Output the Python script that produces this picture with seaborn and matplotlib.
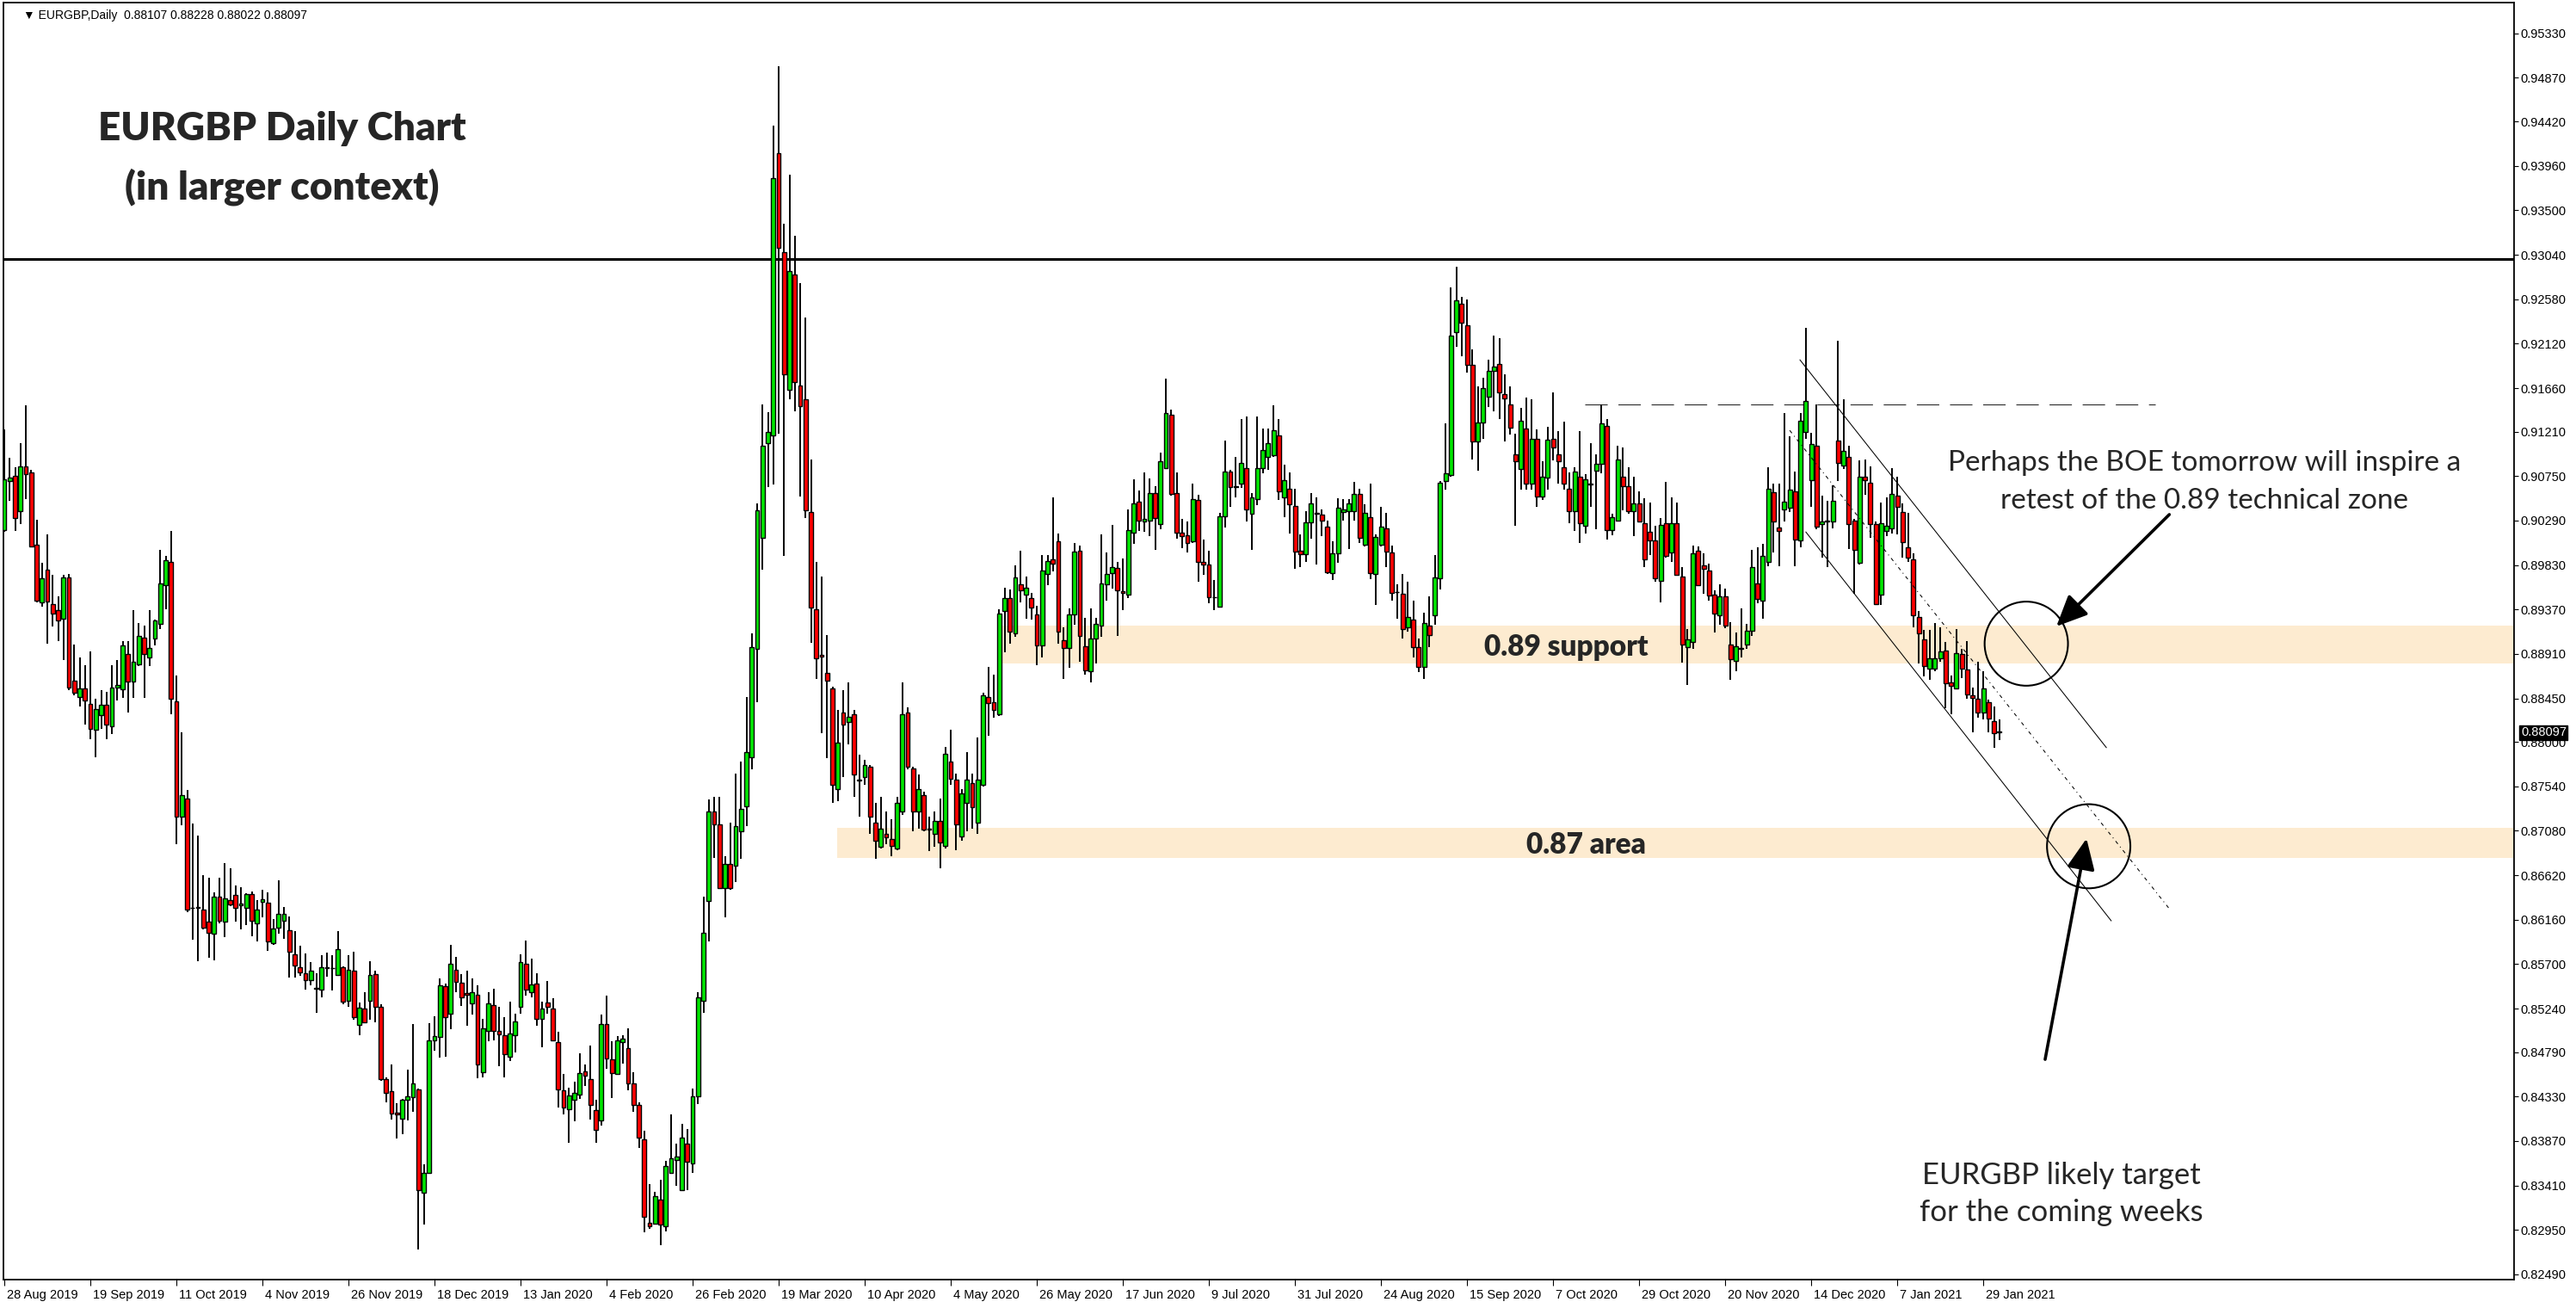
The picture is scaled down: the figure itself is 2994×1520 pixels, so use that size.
import matplotlib
matplotlib.use("Agg")
import matplotlib.pyplot as plt
import matplotlib.transforms as mtransforms
from matplotlib.patches import Rectangle, Ellipse, FancyArrowPatch
import numpy as np
import pandas as pd
import seaborn as sns

# daily EURGBP candles, 28 Aug 2019 -> 3 Feb 2021 (one entry per trading day)
opens = [
    0.90191, 0.90700, 0.90750, 0.90386, 0.90850, 0.90791, 0.90041, 0.89442, 0.89778, 0.89428,
    0.89364, 0.89274, 0.89705, 0.88633, 0.88465, 0.88556, 0.88397, 0.88124, 0.88274, 0.88388,
    0.88161, 0.88565, 0.88542, 0.88910, 0.88624, 0.88801, 0.89078, 0.88874, 0.89069, 0.89224,
    0.89623, 0.89859, 0.88415, 0.87230, 0.87411, 0.86285, 0.86285, 0.86262, 0.86144, 0.86012,
    0.86394, 0.86140, 0.86367, 0.86412, 0.86308, 0.86285, 0.86421, 0.86126, 0.86344, 0.86339,
    0.85922, 0.86081, 0.86149, 0.86049, 0.85804, 0.85672, 0.85604, 0.85536, 0.85454, 0.85436,
    0.85663, 0.85663, 0.85590, 0.85672, 0.85318, 0.85629, 0.85071, 0.85243, 0.85318, 0.85594,
    0.85258, 0.84507, 0.84383, 0.84160, 0.84101, 0.84294, 0.84323, 0.84406, 0.83335, 0.83537,
    0.84908, 0.84947, 0.85472, 0.85184, 0.85644, 0.85505, 0.85398, 0.85294, 0.85383, 0.84585,
    0.85006, 0.85273, 0.85006, 0.84964, 0.84739, 0.84962, 0.85255, 0.85704, 0.85407, 0.85496,
    0.85131, 0.85300, 0.85243, 0.84896, 0.84392, 0.84196, 0.84294, 0.84347, 0.84588, 0.84507,
    0.84187, 0.84083, 0.85077, 0.84715, 0.84564, 0.84893, 0.84828, 0.84463, 0.84240, 0.83884,
    0.83026, 0.83017, 0.83267, 0.82988, 0.83543, 0.83670, 0.83359, 0.83840, 0.83635, 0.84332,
    0.85324, 0.86351, 0.87283, 0.87144, 0.86490, 0.86735, 0.86719, 0.87079, 0.87332, 0.87839,
    0.88959, 0.90112, 0.91093, 0.91174, 0.94093, 0.93071, 0.91640, 0.92834, 0.91689, 0.91542,
    0.90381, 0.89376, 0.88902, 0.88714, 0.88550, 0.87512, 0.88305, 0.88207, 0.88289, 0.87610,
    0.87635, 0.87741, 0.87160, 0.86915, 0.87046, 0.86997, 0.86899, 0.87283, 0.88305, 0.87724,
    0.87283, 0.87447, 0.87103, 0.87046, 0.87185, 0.86923, 0.87798, 0.87610, 0.87021, 0.87373,
    0.87577, 0.87160, 0.87553, 0.88468, 0.88411, 0.88289, 0.89352, 0.89487, 0.89123, 0.89632,
    0.89527, 0.89487, 0.89316, 0.88996, 0.89734, 0.89890, 0.90079, 0.89054, 0.88967, 0.89323,
    0.89977, 0.88989, 0.88734, 0.89069, 0.89200, 0.89632, 0.89745, 0.89796, 0.89556, 0.89523,
    0.90163, 0.90486, 0.90279, 0.90290, 0.90570, 0.90253, 0.90835, 0.91387, 0.90570, 0.90166,
    0.90141, 0.90079, 0.90501, 0.89861, 0.89832, 0.89501, 0.89396, 0.90333, 0.90795, 0.90646,
    0.90668, 0.90835, 0.90359, 0.90515, 0.90835, 0.90948, 0.90969, 0.91169, 0.90526, 0.90617,
    0.90442, 0.89977, 0.89941, 0.90275, 0.90370, 0.90348, 0.90224, 0.89745, 0.89955, 0.90378,
    0.90387, 0.90387, 0.90568, 0.90040, 0.90322, 0.89734, 0.90040, 0.90209, 0.89958, 0.89553,
    0.89535, 0.89182, 0.89265, 0.88983, 0.88774, 0.89206, 0.89314, 0.89694, 0.90700, 0.90761,
    0.92239, 0.92533, 0.92309, 0.91901, 0.91107, 0.91307, 0.91573, 0.91840, 0.91911, 0.91598,
    0.91487, 0.90975, 0.90822, 0.91242, 0.90675, 0.91135, 0.90540, 0.90730, 0.91135, 0.90975,
    0.90838, 0.90617, 0.90387, 0.90739, 0.90240, 0.90672, 0.90807, 0.90877, 0.91267, 0.90194,
    0.90286, 0.90739, 0.90644, 0.90387, 0.90463, 0.90264, 0.90169, 0.90080, 0.89663, 0.90264,
    0.89957, 0.90266, 0.89706, 0.88982, 0.89031, 0.89973, 0.89822, 0.89776, 0.89525, 0.89314,
    0.89502, 0.89011, 0.88834, 0.88972, 0.89008, 0.89146, 0.89641, 0.89459, 0.89865, 0.90583,
    0.90220, 0.90402, 0.90425, 0.90596, 0.90085, 0.91209, 0.90705, 0.91067, 0.90250, 0.90286,
    0.90276, 0.91113, 0.90863, 0.90945, 0.90293, 0.89855, 0.90747, 0.90681, 0.90250, 0.89525,
    0.90178, 0.90210, 0.90546, 0.90375, 0.90013, 0.89888, 0.89288, 0.89058, 0.88761, 0.88761,
    0.88866, 0.88942, 0.88613, 0.88553, 0.88909, 0.88745, 0.88481, 0.88442, 0.88300, 0.88409,
    0.88211, 0.88107,
]
highs = [
    0.91236, 0.90940, 0.90841, 0.91090, 0.91485, 0.90813, 0.90295, 0.89850, 0.90146, 0.89732,
    0.89505, 0.89728, 0.89737, 0.89006, 0.88874, 0.88792, 0.88933, 0.88442, 0.88538, 0.88520,
    0.88792, 0.88847, 0.89042, 0.89042, 0.89364, 0.89233, 0.89205, 0.89364, 0.89269, 0.89987,
    0.89928, 0.90182, 0.88688, 0.88097, 0.87502, 0.87157, 0.87030, 0.86621, 0.86594, 0.86444,
    0.86594, 0.86748, 0.86694, 0.86512, 0.86498, 0.86435, 0.86453, 0.86362, 0.86467, 0.86444,
    0.86171, 0.86567, 0.86294, 0.86194, 0.86044, 0.85890, 0.85808, 0.85726, 0.85604, 0.85794,
    0.85822, 0.85794, 0.86044, 0.85681, 0.85793, 0.85828, 0.85303, 0.85407, 0.85733, 0.85629,
    0.85282, 0.84531, 0.84659, 0.84258, 0.84309, 0.84605, 0.85080, 0.84412, 0.83626, 0.85086,
    0.85160, 0.85552, 0.85496, 0.85896, 0.85775, 0.85594, 0.85629, 0.85552, 0.85478, 0.85134,
    0.85407, 0.85442, 0.85258, 0.85151, 0.85312, 0.85184, 0.85801, 0.85941, 0.85754, 0.85603,
    0.85312, 0.85522, 0.85344, 0.84997, 0.84561, 0.84418, 0.84481, 0.84777, 0.84659, 0.84858,
    0.84294, 0.85178, 0.85374, 0.84902, 0.84956, 0.84967, 0.85036, 0.84582, 0.84270, 0.83976,
    0.83424, 0.83344, 0.83469, 0.83662, 0.84145, 0.83840, 0.84047, 0.83991, 0.84409, 0.85407,
    0.86395, 0.87406, 0.87430, 0.87430, 0.86817, 0.87168, 0.87675, 0.87798, 0.88468, 0.89122,
    0.90471, 0.91493, 0.91411, 0.94379, 0.94992, 0.93357, 0.93864, 0.93234, 0.92744, 0.92392,
    0.90921, 0.89866, 0.89711, 0.89106, 0.88567, 0.88329, 0.88534, 0.88616, 0.88329, 0.87863,
    0.87814, 0.87757, 0.87373, 0.87430, 0.87283, 0.87201, 0.87430, 0.88616, 0.88354, 0.87741,
    0.87659, 0.87487, 0.87226, 0.87283, 0.87414, 0.87945, 0.88125, 0.87675, 0.87512, 0.87896,
    0.87675, 0.88043, 0.88509, 0.88779, 0.88697, 0.89368, 0.89597, 0.89577, 0.89825, 0.89981,
    0.89708, 0.89541, 0.89407, 0.89934, 0.89934, 0.90530, 0.90152, 0.89189, 0.89381, 0.90057,
    0.90032, 0.89280, 0.89381, 0.89280, 0.90144, 0.89959, 0.90243, 0.89861, 0.89897, 0.90406,
    0.90715, 0.90599, 0.90788, 0.90726, 0.90642, 0.90995, 0.91758, 0.91434, 0.90788, 0.90308,
    0.90279, 0.90668, 0.90559, 0.90097, 0.89981, 0.89679, 0.90370, 0.91118, 0.90817, 0.90944,
    0.91340, 0.91365, 0.90573, 0.91365, 0.91242, 0.91242, 0.91482, 0.91340, 0.90868, 0.90788,
    0.90617, 0.90144, 0.90391, 0.90573, 0.90530, 0.90406, 0.90286, 0.90072, 0.90522, 0.90516,
    0.90516, 0.90693, 0.90617, 0.90454, 0.90669, 0.90148, 0.90430, 0.90368, 0.90031, 0.89633,
    0.89734, 0.89657, 0.89458, 0.89068, 0.89335, 0.89504, 0.89933, 0.90700, 0.91291, 0.92702,
    0.92913, 0.92600, 0.92579, 0.92058, 0.91681, 0.91767, 0.91957, 0.92202, 0.92180, 0.91803,
    0.91675, 0.91190, 0.91451, 0.91558, 0.91543, 0.91230, 0.90899, 0.91258, 0.91613, 0.91212,
    0.91313, 0.90785, 0.90838, 0.91212, 0.90770, 0.91089, 0.90975, 0.91487, 0.91337, 0.90362,
    0.91068, 0.91046, 0.90838, 0.90745, 0.90592, 0.90522, 0.90479, 0.90240, 0.90316, 0.90688,
    0.90530, 0.90474, 0.89809, 0.89166, 0.90029, 0.90023, 0.89947, 0.89848, 0.89568, 0.89634,
    0.89585, 0.89239, 0.89130, 0.89377, 0.89222, 0.89986, 0.90013, 0.90052, 0.90843, 0.90672,
    0.90672, 0.91406, 0.91159, 0.90797, 0.91406, 0.92279, 0.91199, 0.91489, 0.90550, 0.90497,
    0.90655, 0.92154, 0.91541, 0.91067, 0.90303, 0.90912, 0.90919, 0.90846, 0.90283, 0.90474,
    0.90530, 0.90836, 0.90747, 0.90467, 0.90369, 0.89947, 0.89354, 0.89156, 0.89156, 0.89232,
    0.89189, 0.89031, 0.88689, 0.89166, 0.88959, 0.89041, 0.88563, 0.88827, 0.88728, 0.88438,
    0.88366, 0.88228,
]
lows = [
    0.90177, 0.90495, 0.90182, 0.90250, 0.90509, 0.90009, 0.89442, 0.89396, 0.89019, 0.89192,
    0.89042, 0.88851, 0.88533, 0.88479, 0.88365, 0.88183, 0.88024, 0.87843, 0.88134, 0.88024,
    0.88079, 0.88424, 0.88451, 0.88306, 0.88451, 0.88783, 0.88451, 0.88788, 0.88996, 0.89164,
    0.89373, 0.88283, 0.86943, 0.87139, 0.86239, 0.85953, 0.85731, 0.86058, 0.85763, 0.85740,
    0.86126, 0.85976, 0.86299, 0.86140, 0.86058, 0.86103, 0.85990, 0.85931, 0.86181, 0.85840,
    0.85899, 0.86012, 0.85958, 0.85558, 0.85558, 0.85581, 0.85436, 0.85481, 0.85195, 0.85354,
    0.85572, 0.85431, 0.85581, 0.85286, 0.85258, 0.85125, 0.84967, 0.85089, 0.85125, 0.85095,
    0.84493, 0.84273, 0.84095, 0.83899, 0.83943, 0.84080, 0.84175, 0.82744, 0.83003, 0.83528,
    0.84807, 0.84736, 0.84745, 0.85030, 0.85413, 0.85264, 0.85065, 0.85178, 0.84516, 0.84525,
    0.84902, 0.84908, 0.84641, 0.84525, 0.84694, 0.84783, 0.85190, 0.85377, 0.85353, 0.85065,
    0.84843, 0.85184, 0.84902, 0.84220, 0.84148, 0.83854, 0.84071, 0.84303, 0.84442, 0.84095,
    0.83849, 0.84027, 0.84620, 0.84317, 0.84558, 0.84674, 0.84398, 0.84175, 0.83795, 0.82928,
    0.82958, 0.83009, 0.82789, 0.82934, 0.83537, 0.83403, 0.83359, 0.83359, 0.83537, 0.84249,
    0.85193, 0.85934, 0.86801, 0.86490, 0.86188, 0.86474, 0.86547, 0.86793, 0.87128, 0.87716,
    0.88411, 0.89785, 0.90635, 0.90659, 0.91191, 0.89923, 0.91542, 0.91420, 0.90537, 0.90316,
    0.89024, 0.88648, 0.88092, 0.87831, 0.87373, 0.87389, 0.87635, 0.87978, 0.87430, 0.87226,
    0.87553, 0.87046, 0.86793, 0.86899, 0.86940, 0.86817, 0.86882, 0.87242, 0.87716, 0.87079,
    0.87103, 0.87079, 0.86874, 0.86915, 0.86694, 0.86899, 0.87553, 0.86882, 0.86981, 0.87079,
    0.87103, 0.87046, 0.87536, 0.88060, 0.88248, 0.88272, 0.88923, 0.89014, 0.89091, 0.89439,
    0.89272, 0.89261, 0.88789, 0.88872, 0.89617, 0.89766, 0.89014, 0.88651, 0.88771, 0.89214,
    0.88832, 0.88691, 0.88618, 0.88814, 0.89091, 0.89461, 0.89588, 0.89098, 0.89367, 0.89487,
    0.90050, 0.90181, 0.90177, 0.90133, 0.89988, 0.90203, 0.90835, 0.90551, 0.90104, 0.90006,
    0.89963, 0.90057, 0.89661, 0.89730, 0.89436, 0.89363, 0.89388, 0.90217, 0.90428, 0.90530,
    0.90624, 0.90279, 0.89988, 0.90453, 0.90777, 0.90817, 0.90944, 0.90504, 0.90326, 0.90152,
    0.89788, 0.89806, 0.89861, 0.90104, 0.89832, 0.90133, 0.89734, 0.89679, 0.89854, 0.90286,
    0.89994, 0.90286, 0.90062, 0.90025, 0.89682, 0.89418, 0.90025, 0.89810, 0.89458, 0.89274,
    0.89068, 0.89142, 0.88875, 0.88722, 0.88651, 0.88983, 0.89213, 0.89580, 0.90608, 0.90739,
    0.92085, 0.91993, 0.91819, 0.90923, 0.90801, 0.91138, 0.91466, 0.91420, 0.91343, 0.91107,
    0.91175, 0.90234, 0.90608, 0.90608, 0.90608, 0.90433, 0.90500, 0.90608, 0.90914, 0.90675,
    0.90608, 0.90264, 0.90185, 0.90056, 0.90154, 0.90433, 0.90203, 0.90776, 0.90092, 0.90142,
    0.90277, 0.90393, 0.90362, 0.90132, 0.90276, 0.89810, 0.89933, 0.89657, 0.89442, 0.89907,
    0.89865, 0.89716, 0.88820, 0.88590, 0.88965, 0.89611, 0.89535, 0.89459, 0.89133, 0.89212,
    0.89173, 0.88639, 0.88728, 0.88876, 0.88965, 0.89100, 0.89436, 0.89272, 0.89815, 0.89963,
    0.89815, 0.90276, 0.90375, 0.89815, 0.90013, 0.91139, 0.90434, 0.90204, 0.89907, 0.89809,
    0.90210, 0.90698, 0.90820, 0.89996, 0.89535, 0.89832, 0.90556, 0.90112, 0.89420, 0.89420,
    0.90128, 0.90154, 0.90145, 0.89907, 0.89865, 0.89189, 0.88811, 0.88679, 0.88646, 0.88728,
    0.88827, 0.88349, 0.88283, 0.88547, 0.88656, 0.88448, 0.88102, 0.88251, 0.88234, 0.88102,
    0.87938, 0.88022,
]
closes = [
    0.90713, 0.90736, 0.90314, 0.90850, 0.90768, 0.90018, 0.89464, 0.89691, 0.89455, 0.89328,
    0.89260, 0.89705, 0.88565, 0.88510, 0.88556, 0.88429, 0.88134, 0.88342, 0.88383, 0.88179,
    0.88565, 0.88592, 0.89001, 0.88624, 0.88828, 0.89092, 0.88906, 0.88974, 0.89255, 0.89637,
    0.89878, 0.88442, 0.87230, 0.87452, 0.86262, 0.86280, 0.86290, 0.86081, 0.86026, 0.86394,
    0.86149, 0.86385, 0.86321, 0.86285, 0.86330, 0.86421, 0.86149, 0.86262, 0.86371, 0.85935,
    0.86071, 0.86217, 0.86217, 0.85831, 0.85686, 0.85617, 0.85536, 0.85635, 0.85450, 0.85672,
    0.85667, 0.85660, 0.85853, 0.85308, 0.85644, 0.85154, 0.85252, 0.85095, 0.85591, 0.85258,
    0.84507, 0.84368, 0.84154, 0.84148, 0.84294, 0.84329, 0.84463, 0.83359, 0.83543, 0.84908,
    0.84953, 0.85478, 0.85154, 0.85701, 0.85514, 0.85353, 0.85386, 0.85407, 0.84665, 0.85033,
    0.85297, 0.85006, 0.84970, 0.84766, 0.84979, 0.85104, 0.85718, 0.85436, 0.85493, 0.85131,
    0.85243, 0.85255, 0.84911, 0.84401, 0.84220, 0.84338, 0.84365, 0.84576, 0.84543, 0.84240,
    0.83982, 0.85077, 0.84724, 0.84570, 0.84908, 0.84926, 0.84463, 0.84240, 0.83902, 0.83083,
    0.82988, 0.83296, 0.83003, 0.83614, 0.83694, 0.83712, 0.83908, 0.83656, 0.84329, 0.85353,
    0.86024, 0.87283, 0.87144, 0.86490, 0.86735, 0.86490, 0.87128, 0.87307, 0.87896, 0.88983,
    0.90398, 0.91068, 0.91207, 0.93831, 0.93112, 0.91804, 0.92867, 0.91722, 0.91477, 0.90398,
    0.89392, 0.88861, 0.88885, 0.88632, 0.87553, 0.87994, 0.88182, 0.88256, 0.87659, 0.87602,
    0.87757, 0.87226, 0.86981, 0.87103, 0.87013, 0.86923, 0.87365, 0.88289, 0.87741, 0.87283,
    0.87512, 0.87095, 0.87095, 0.87185, 0.86956, 0.87880, 0.87618, 0.87144, 0.87471, 0.87610,
    0.87324, 0.87610, 0.88485, 0.88403, 0.88329, 0.89327, 0.89487, 0.89141, 0.89697, 0.89570,
    0.89599, 0.89389, 0.88996, 0.89777, 0.89872, 0.89843, 0.89141, 0.88967, 0.89316, 0.89970,
    0.89098, 0.88742, 0.89069, 0.89221, 0.89636, 0.89734, 0.89806, 0.89570, 0.89545, 0.90195,
    0.90471, 0.90290, 0.90308, 0.90570, 0.90315, 0.90907, 0.91405, 0.90562, 0.90163, 0.90130,
    0.90057, 0.90515, 0.89861, 0.89832, 0.89498, 0.89494, 0.90333, 0.90795, 0.90635, 0.90639,
    0.90886, 0.90402, 0.90526, 0.90835, 0.91017, 0.91086, 0.91227, 0.90595, 0.90711, 0.90457,
    0.89966, 0.89941, 0.90275, 0.90464, 0.90362, 0.90290, 0.89752, 0.89955, 0.90421, 0.90402,
    0.90470, 0.90568, 0.90111, 0.90368, 0.89749, 0.90117, 0.90224, 0.89970, 0.89541, 0.89547,
    0.89167, 0.89289, 0.88983, 0.88774, 0.89228, 0.89105, 0.89697, 0.90684, 0.90782, 0.92202,
    0.92570, 0.92334, 0.91901, 0.91107, 0.91307, 0.91659, 0.91840, 0.91880, 0.91613, 0.91549,
    0.91251, 0.90899, 0.91322, 0.90675, 0.91135, 0.90540, 0.90746, 0.91129, 0.91043, 0.90899,
    0.90669, 0.90387, 0.90798, 0.90264, 0.90715, 0.90666, 0.90877, 0.91291, 0.90194, 0.90322,
    0.90920, 0.90644, 0.90387, 0.90463, 0.90276, 0.89887, 0.90080, 0.89694, 0.90246, 0.89921,
    0.90266, 0.89726, 0.89008, 0.89058, 0.89947, 0.89624, 0.89789, 0.89512, 0.89328, 0.89509,
    0.89206, 0.88853, 0.88985, 0.88965, 0.89150, 0.89809, 0.89479, 0.89921, 0.90616, 0.90276,
    0.90178, 0.90484, 0.90606, 0.90089, 0.91321, 0.91528, 0.91083, 0.90227, 0.90276, 0.90280,
    0.90490, 0.90886, 0.91011, 0.90250, 0.89986, 0.90747, 0.90705, 0.90250, 0.89426, 0.90266,
    0.90234, 0.90566, 0.90431, 0.90069, 0.89907, 0.89314, 0.89123, 0.88787, 0.88866, 0.88866,
    0.88932, 0.88603, 0.88580, 0.88916, 0.88761, 0.88491, 0.88455, 0.88300, 0.88553, 0.88244,
    0.88086, 0.88097,
]

date_labels = ['28 Aug 2019', '19 Sep 2019', '11 Oct 2019', '4 Nov 2019', '26 Nov 2019',
               '18 Dec 2019', '13 Jan 2020', '4 Feb 2020', '26 Feb 2020', '19 Mar 2020',
               '10 Apr 2020', '4 May 2020', '26 May 2020', '17 Jun 2020', '9 Jul 2020',
               '31 Jul 2020', '24 Aug 2020', '15 Sep 2020', '7 Oct 2020', '29 Oct 2020',
               '20 Nov 2020', '14 Dec 2020', '7 Jan 2021', '29 Jan 2021']
bars_per_label = 16

price_ticks = [0.95330, 0.94870, 0.94420, 0.93960, 0.93500, 0.93040, 0.92580, 0.92120,
               0.91660, 0.91210, 0.90750, 0.90290, 0.89830, 0.89370, 0.88910, 0.88450,
               0.88000, 0.87540, 0.87080, 0.86620, 0.86160, 0.85700, 0.85240, 0.84790,
               0.84330, 0.83870, 0.83410, 0.82950, 0.82490]

last_price = 0.88097
header = '\u25bc EURGBP,Daily  0.88107 0.88228 0.88022 0.88097'

# drawn objects (bar index, price)
resistance_level = 0.9300
support_zone = [0.8881, 0.8920]
support_zone_start = 185.3
target_zone = [0.8680, 0.8711]
target_zone_start = 154.9
dashed_level = 0.9149
dashed_bars = [293.9, 400.0]
channel_upper = [[333.9, 390.9], [0.91953, 0.87940]]
channel_lower = [[335.0, 391.8], [0.90172, 0.86148]]
channel_middle = [[332.0, 402.6], [0.91223, 0.86273]]
circle_bars = [376.0, 387.6]
circle_prices = [0.89016, 0.86920]
arrow_tails = [(402.6, 0.90352), (379.5, 0.84715)]
arrow_tips = [(381.6, 0.89195), (387.2, 0.87000)]

df = pd.DataFrame({'open': opens, 'high': highs, 'low': lows, 'close': closes})
df['bar'] = np.arange(len(df))
df['body_lo'] = df[['open', 'close']].min(axis=1)
df['body_h'] = (df['close'] - df['open']).abs()
df['colour'] = np.where(df['close'] >= df['open'], '#00E600', '#FF0000')

W, H = 2994, 1520

sns.set_theme(style='white')
plt.rcParams['font.family'] = ['Liberation Sans', 'DejaVu Sans']

fig = plt.figure(figsize=(W / 100, H / 100), dpi=100)
fig.patch.set_facecolor('white')
ax = fig.add_axes([4 / W, (H - 1487) / H, 2918 / W, 1484 / H])
ax.set_facecolor('white')

x_right = 466.7
ax.set_xlim(-0.16, x_right)
ax.set_ylim(0.824365, 0.956487)

# zones
ax.add_patch(Rectangle((support_zone_start, support_zone[0]), x_right - support_zone_start,
                       support_zone[1] - support_zone[0], fc='#FDEBD0', ec='none', zorder=1))
ax.add_patch(Rectangle((target_zone_start, target_zone[0]), x_right - target_zone_start,
                       target_zone[1] - target_zone[0], fc='#FDEBD0', ec='none', zorder=1))

ax.axhline(resistance_level, color='black', lw=2.2, zorder=2)
ax.plot(dashed_bars, [dashed_level, dashed_level], color='#222222', lw=0.75,
        dashes=(25, 12), zorder=2)

# candles
ax.vlines(df['bar'], df['low'], df['high'], color='black', lw=1.4, zorder=3)
ax.bar(df['bar'], df['body_h'], bottom=df['body_lo'], width=0.78, color=df['colour'],
       edgecolor='black', linewidth=1.0, zorder=4)

# channel
ax.plot(*channel_upper, color='black', lw=0.75, zorder=5)
ax.plot(*channel_lower, color='black', lw=0.75, zorder=5)
ax.plot(*channel_middle, color='black', lw=0.75, dashes=(4, 4, 1, 4), zorder=5)

for cx, cy in zip(circle_bars, circle_prices):
    ax.add_patch(Ellipse((cx, cy), width=15.5, height=0.0087, fill=False, ec='black',
                         lw=1.5, zorder=6))
for tail, tip in zip(arrow_tails, arrow_tips):
    ax.add_patch(FancyArrowPatch(tail, tip, arrowstyle='-|>,head_length=1.1,head_width=0.5',
                                 mutation_scale=20, lw=2.6, color='black',
                                 shrinkA=0, shrinkB=0, zorder=7))

# axes styling
for s in ax.spines.values():
    s.set_color('black')
    s.set_linewidth(1.3)
ax.grid(False)

ax.yaxis.tick_right()
ax.set_yticks(price_ticks)
ax.set_yticklabels(['%.5f' % p for p in price_ticks])
ax.tick_params(axis='y', which='both', left=False, right=True, labelleft=False,
               labelright=True, direction='out', length=3.5, width=0.8, pad=2,
               labelsize=10.5, colors='black')

ax.set_xticks(np.arange(len(date_labels)) * bars_per_label)
ax.set_xticklabels(date_labels)
ax.tick_params(axis='x', which='both', bottom=True, top=False, direction='out', length=5,
               width=0.8, pad=3, labelsize=10.5, colors='black')
offset = mtransforms.ScaledTranslation(3 / 100, 0, fig.dpi_scale_trans)
for lbl in ax.get_xticklabels():
    lbl.set_horizontalalignment('left')
    lbl.set_transform(lbl.get_transform() + offset)

trans = mtransforms.blended_transform_factory(ax.transAxes, ax.transData)
ax.text(1.0027, last_price, '%.5f' % last_price, transform=trans, color='white',
        fontsize=10.5, ha='left', va='center', zorder=10, clip_on=False,
        bbox=dict(facecolor='black', edgecolor='black', pad=1.2))

# texts (pixel positions of the picture)
def fpos(px, py):
    return px / W, 1 - py / H

fig.text(*fpos(27, 18), header, fontsize=10, ha='left', va='center', color='black')

fig.text(*fpos(328, 163), 'EURGBP Daily Chart', family='Lato', fontweight='heavy',
         fontsize=33, ha='center', va='baseline')
fig.text(*fpos(328, 231), '(in larger context)', family='Lato', fontweight='heavy',
         fontsize=33, ha='center', va='baseline')

fig.text(*fpos(2562, 547), 'Perhaps the BOE tomorrow will inspire a', family='Lato',
         fontsize=24, ha='center', va='baseline')
fig.text(*fpos(2562, 591), 'retest of the 0.89 technical zone', family='Lato',
         fontsize=24, ha='center', va='baseline')
fig.text(*fpos(2396, 1376), 'EURGBP likely target', family='Lato',
         fontsize=25, ha='center', va='baseline')
fig.text(*fpos(2396, 1419), 'for the coming weeks', family='Lato',
         fontsize=25, ha='center', va='baseline')

fig.text(*fpos(1820, 762), '0.89 support', family='Lato', fontweight='heavy',
         fontsize=24, ha='center', va='baseline')
fig.text(*fpos(1843, 992), '0.87 area', family='Lato', fontweight='heavy',
         fontsize=24, ha='center', va='baseline')

fig.savefig('out.png', dpi=100, facecolor='white')
